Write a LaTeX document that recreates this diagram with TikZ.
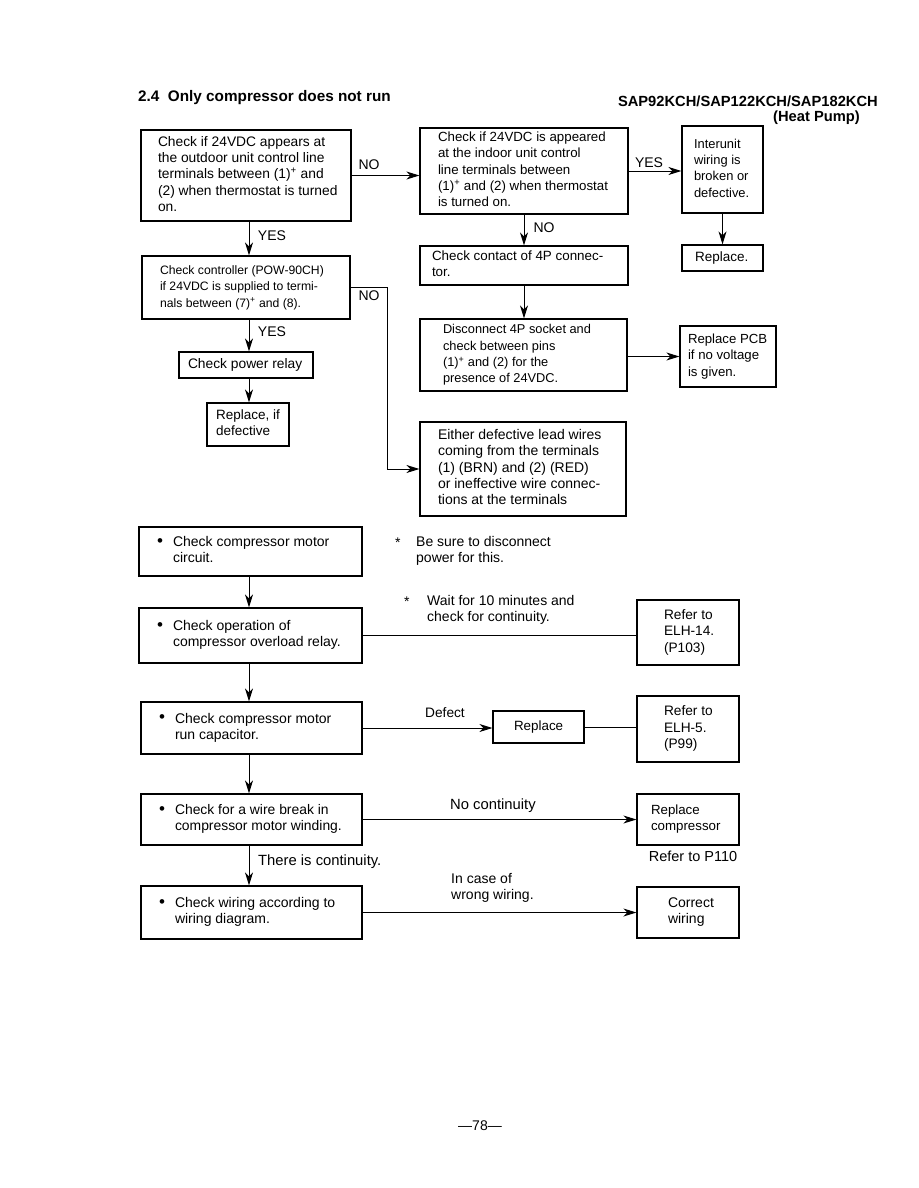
\documentclass[tikz,border=0pt]{standalone}
\usepackage{fontspec}
\setmainfont{Liberation Sans}
\usetikzlibrary{arrows.meta}
\newcommand\flowbox[8]{%
  \pgfmathsetmacro\fbw{#4-#2}\pgfmathsetmacro\fbh{#5-#3}\pgfmathsetmacro\fbt{#4-#2-2*#6}%
  \node[box,font=\fontsize{#7}{16.3}\selectfont,minimum width=\fbw pt,minimum height=\fbh pt] (#1) at ({(#2+#4)/2},{(#3+#5)/2}) {\makebox[\fbt pt][l]{\begin{tabular}{@{}l@{}}#8\end{tabular}}};}
\newcommand\bul[1]{\makebox[16pt][l]{\raisebox{0.5pt}{\fontsize{17}{16}\selectfont\textbullet}}#1}
\newcommand\ind{\hspace*{16pt}}
\begin{document}
\begin{tikzpicture}[x=1pt,y=-1pt,
  box/.style={draw,line width=1.2pt,inner sep=0pt},
  arr/.style={line width=1pt,-{Stealth[length=13pt,width=8pt,inset=4pt]}},
  ln/.style={line width=1pt},
  lab/.style={inner sep=0pt,font=\fontsize{14}{16}\selectfont},
  note/.style={inner sep=0pt,align=left,font=\fontsize{14}{16.5}\selectfont}]
\useasboundingbox[fill=white] (0,0) rectangle (918,1188);

% title
\node[inner sep=0pt,anchor=west,font=\bfseries\fontsize{15.3}{16}\selectfont] (title) at (138,98) {2.4\ \ Only compressor does not run};
\node[inner sep=0pt,anchor=east,font=\bfseries\fontsize{14.7}{16}\selectfont] (model) at (878,101) {SAP92KCH/SAP122KCH/SAP182KCH};
\node[inner sep=0pt,anchor=east,font=\bfseries\fontsize{14.7}{16}\selectfont] (heat) at (860,118) {(Heat Pump)};

% upper boxes
\flowbox{A}{141}{130}{351}{221}{17}{13.8}{Check if 24VDC appears at\\the outdoor unit control line\\terminals between (1)\textsuperscript{+} and\\(2) when thermostat is turned\\on.}
\flowbox{B}{420}{128}{628}{214}{18}{13.3}{Check if 24VDC is appeared\\at the indoor unit control\\line terminals between\\(1)\textsuperscript{+} and (2) when thermostat\\is turned on.}
\flowbox{C}{682}{126}{763}{213}{12}{12.9}{Interunit\\wiring is\\broken or\\defective.}
\flowbox{R1}{682}{245}{763}{271}{13}{13.5}{Replace.}
\flowbox{D}{420}{246}{628}{285}{12}{13.4}{Check contact of 4P connec-\\tor.}
\flowbox{E}{420}{319}{627}{391}{23}{12.8}{Disconnect 4P socket and\\check between pins\\(1)\textsuperscript{+} and (2) for the\\presence of 24VDC.}
\flowbox{F}{680}{326}{776}{387}{8}{13.2}{Replace PCB\\if no voltage\\is given.}
\flowbox{G}{420}{422}{626}{516}{18}{14}{Either defective lead wires\\coming from the terminals\\(1) (BRN) and (2) (RED)\\or ineffective wire connec-\\tions at the terminals}
\flowbox{H}{142}{256}{350}{319}{18}{12.2}{Check controller (POW-90CH)\\if 24VDC is supplied to termi-\\nals between (7)\textsuperscript{+} and (8).}
\flowbox{PR}{179}{352}{313}{378}{9}{13.8}{Check power relay}
\flowbox{RD}{207}{403}{289}{446}{9}{13.5}{Replace, if\\defective}

% lower boxes
\flowbox{I}{139}{527}{362}{576}{18}{14}{\bul{Check compressor motor}\\\ind circuit.}
\flowbox{J}{139}{608}{362}{663}{18}{14}{\bul{Check operation of}\\\ind compressor overload relay.}
\flowbox{K}{637}{600}{739}{665}{27}{13.7}{Refer to\\ELH-14.\\(P103)}
\flowbox{L}{141}{702}{362}{754}{18}{14}{\bul{Check compressor motor}\\\ind run capacitor.}
\flowbox{RP}{493}{711}{584}{743}{21}{13.4}{Replace}
\flowbox{M}{637}{696}{739}{762}{27}{13.7}{Refer to\\ELH-5.\\(P99)}
\flowbox{N}{141}{794}{362}{845}{18}{13.9}{\bul{Check for a wire break in}\\\ind compressor motor winding.}
\flowbox{O}{637}{794}{739}{845}{14}{13.3}{Replace\\compressor}
\flowbox{P}{141}{886}{362}{939}{18}{14}{\bul{Check wiring according to}\\\ind wiring diagram.}
\flowbox{Q}{637}{887}{739}{938}{31}{14}{Correct\\wiring}

\coordinate (colL) at (249,0);
\coordinate (bend) at (387,0);

% upper connectors
\draw[arr] (A.east) -- (B.west |- A.east);
\node[lab] (noA) at (369,165) {NO};
\draw[arr] (B.east) -- (C.west |- B.east);
\node[lab] (yesB) at (649,163) {YES};
\draw[arr] (B.south) -- (D.north);
\node[lab] (noB) at (544,228) {NO};
\draw[arr] (C.south) -- (R1.north);
\draw[arr] (D.south) -- (E.north -| D.south);
\draw[arr] (E.east |- F.west) -- (F.west);
\draw[arr] (A.south -| colL) -- (H.north -| colL);
\node[lab] (yesA) at (272,236) {YES};
\draw[arr] (H.east) -- (H.east -| bend) -- (bend |- G.west) -- (G.west);
\node[lab] (noH) at (369,296) {NO};
\draw[arr] (H.south -| colL) -- (PR.north -| colL);
\node[lab] (yesH) at (272,332) {YES};
\draw[arr] (PR.south -| colL) -- (RD.north -| colL);

% lower connectors
\draw[arr] (I.south -| colL) -- (J.north -| colL);
\draw[ln] (J.east) -- (J.east -| K.west);
\draw[arr] (J.south -| colL) -- (L.north -| colL);
\draw[arr] (L.east) -- (RP.west |- L.east);
\draw[ln] (RP.east) -- (M.west |- RP.east);
\draw[arr] (L.south -| colL) -- (N.north -| colL);
\draw[arr] (N.east) -- (O.west |- N.east);
\draw[arr] (N.south -| colL) -- (P.north -| colL);
\draw[arr] (P.east) -- (Q.west |- P.east);

% notes and labels
\node[note,anchor=west] (n1s) at (395,543) {*};
\node[note,anchor=north west] (n1) at (416,536) {Be sure to disconnect\\power for this.};
\node[note,anchor=west] (n2s) at (404,602) {*};
\node[note,anchor=north west] (n2) at (427,595) {Wait for 10 minutes and\\check for continuity.};
\node[note,anchor=west,font=\fontsize{13.7}{16}\selectfont] (defect) at (425,713) {Defect};
\node[note,anchor=west,font=\fontsize{14.8}{16}\selectfont] (nocont) at (450,806) {No continuity};
\node[note,anchor=west,font=\fontsize{14.8}{16}\selectfont] (thcont) at (258,862) {There is continuity.};
\node[note,anchor=north west] (wrong) at (451,873) {In case of\\wrong wiring.};
\node[note,font=\fontsize{14.5}{16}\selectfont] (p110) at (693,856) {Refer to P110};
\node[note] (page) at (480,1126) {---78---};
\end{tikzpicture}
\end{document}
